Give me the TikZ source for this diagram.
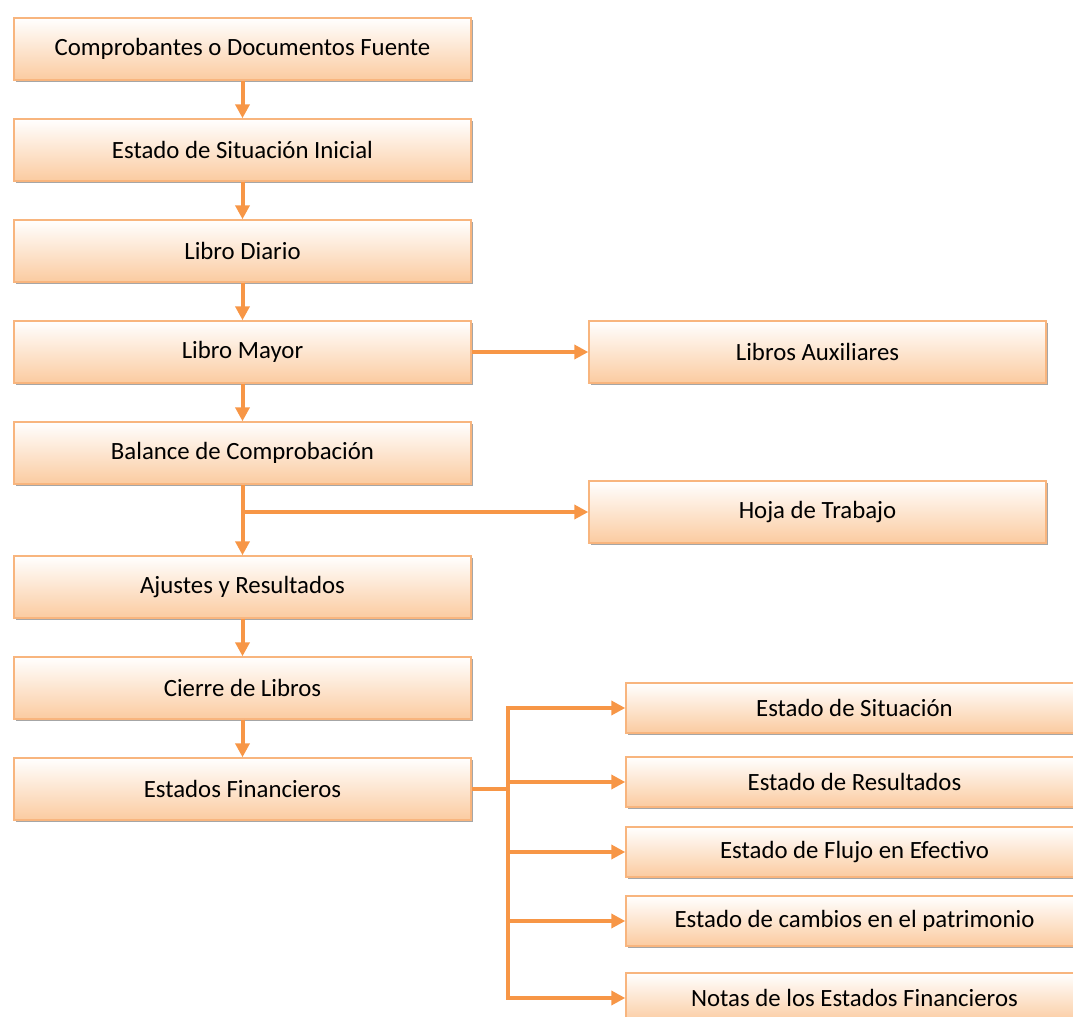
\documentclass[tikz,border=0pt]{standalone}
\usepackage{fontspec}
\setmainfont{Carlito}
\usetikzlibrary{arrows.meta,shadows}
\definecolor{naranja}{HTML}{F79646}
\definecolor{borde}{HTML}{F8B57E}
\definecolor{durazno}{HTML}{FBCBA0}

\begin{document}
\begin{tikzpicture}[x=0.5pt,y=-0.5pt,>={Triangle[length=7pt,width=7pt]},
    node distance=50.5pt,
    caja/.style={rectangle,draw=borde,line width=0.7pt,top color=white,bottom color=durazno,
      minimum width=228.5pt,minimum height=31pt,font=\fontsize{12.4}{14}\selectfont,
      drop shadow={shadow xshift=1.2pt,shadow yshift=-1.2pt,fill=black,opacity=.35}},
    cajita/.style={caja,minimum height=25pt},
    flecha/.style={->,draw=naranja,line width=2pt}]

\useasboundingbox (0,0) rectangle (1073,1017);
\clip (0,0) rectangle (1073,1017);

\node[caja] (1) at (242.5,49) {Comprobantes o Documentos Fuente};
\node[caja] (2) [below of=1] {Estado de Situación Inicial};
\node[caja] (3) [below of=2] {Libro Diario};
\node[caja] (4) [below of=3] {Libro Mayor};
\node[caja] (5) [below of=4] {Balance de Comprobación};
\node[caja] (6) [below of=5,node distance=67pt] {Ajustes y Resultados};
\node[caja] (7) [below of=6] {Cierre de Libros};
\node[caja] (8) [below of=7] {Estados Financieros};

\node[caja] (aux) [right of=4,node distance=287.5pt] {Libros Auxiliares};
\node[caja] (hoja) at (817.5,512) {Hoja de Trabajo};

% estados financieros
\node[cajita] (e1) at (854.5,708) {Estado de Situación};
\node[cajita] (e2) at (854.5,782) {Estado de Resultados};
\node[cajita] (e3) at (854.5,852) {Estado de Flujo en Efectivo};
\node[cajita] (e4) at (854.5,921) {Estado de cambios en el patrimonio};
\node[cajita] (e5) at (854.5,998) {Notas de los Estados Financieros};

\foreach \a/\b in {1/2,2/3,3/4,4/5,4/aux,5/6,6/7,7/8}
  \draw[flecha] (\a) -- (\b);

\coordinate (r) at (5.south |- hoja.west);
\draw[flecha] (r) -- (hoja);

\draw[naranja,line width=2pt] (8.east) -- ++(36,0) coordinate (b);
\draw[naranja,line width=2pt,line cap=rect] (b |- e1.west) -- (b |- e5.west);
\foreach \n in {1,...,5}
  \draw[flecha] (b |- e\n.west) -- (e\n.west);

\end{tikzpicture}
\end{document}
